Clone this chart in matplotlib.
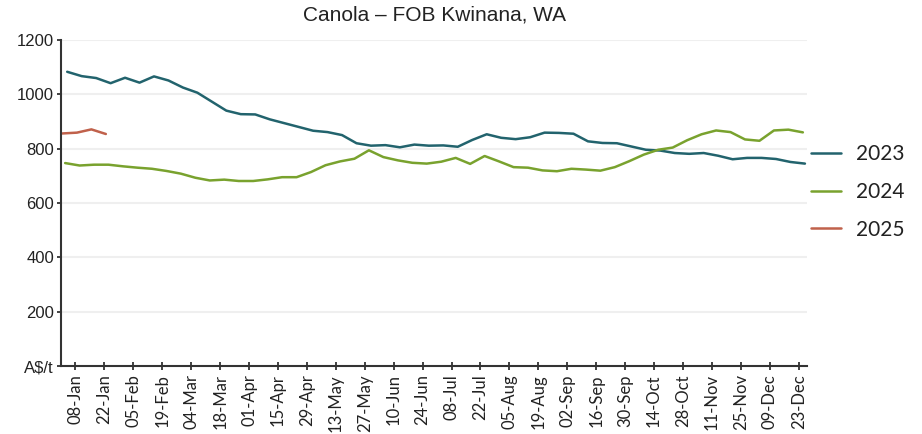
import numpy as np
import matplotlib
matplotlib.use('Agg')
import matplotlib.pyplot as plt

# weekly prices, A$/t
y2023 = [1083, 1067, 1060, 1041, 1061, 1043, 1066, 1051, 1025, 1006, 973, 940,
         927, 926, 908, 894, 880, 866, 861, 850, 820, 811, 813, 805, 815, 811,
         812, 807, 832, 853, 840, 835, 842, 859, 858, 855, 827, 821, 820, 808,
         796, 793, 784, 781, 784, 774, 761, 766, 766, 762, 751, 745]
y2024 = [747, 738, 741, 741, 735, 730, 726, 718, 708, 693, 683, 686,
         681, 681, 687, 695, 695, 714, 739, 753, 763, 794, 769, 757, 748, 745,
         752, 766, 744, 773, 753, 732, 730, 720, 717, 726, 723, 719, 732, 754,
         778, 796, 804, 831, 853, 867, 861, 834, 829, 867, 870, 860]
y2025 = [856, 859, 871, 854]

# day of year for the first week of each series
start_day = {'2023': 3, '2024': 2, '2025': 0.7}

tick_labels = ['08-Jan', '22-Jan', '05-Feb', '19-Feb', '04-Mar', '18-Mar', '01-Apr',
               '15-Apr', '29-Apr', '13-May', '27-May', '10-Jun', '24-Jun', '08-Jul',
               '22-Jul', '05-Aug', '19-Aug', '02-Sep', '16-Sep', '30-Sep', '14-Oct',
               '28-Oct', '11-Nov', '25-Nov', '09-Dec', '23-Dec']

colors = {'2023': '#22636d', '2024': '#79a22e', '2025': '#c0614b'}
series = {'2023': y2023, '2024': y2024, '2025': y2025}

fig = plt.figure(figsize=(9.22, 4.34), dpi=100)
ax = fig.add_axes([61/922, 1 - 366/434, (807 - 61)/922, (366 - 40)/434])

for name, vals in series.items():
    days = start_day[name] + 7 * np.arange(len(vals))
    ax.plot(days, vals, color=colors[name], lw=1.8, label=name, solid_capstyle='round')

ax.set_xlim(0, 361)
ax.set_ylim(0, 1200)
ax.set_xticks(7 + 14 * np.arange(len(tick_labels)))
ax.set_xticklabels(tick_labels, rotation=90, family='Lato', fontsize=12, color='#222222')
ax.set_yticks(np.arange(0, 1201, 200))
ax.set_yticklabels(['A$/t', '200', '400', '600', '800', '1000', '1200'],
                   family='Liberation Sans', fontsize=12, color='#222222')

for v in range(200, 1201, 200):
    ax.axhline(v, color='#efefef', lw=1.5, zorder=0)

for s in ['top', 'right']:
    ax.spines[s].set_visible(False)
for s in ['left', 'bottom']:
    ax.spines[s].set_color('#333333')
    ax.spines[s].set_linewidth(1.5)
ax.tick_params(axis='x', direction='inout', length=6, width=1.3, color='#333333', pad=3)
ax.tick_params(axis='y', direction='out', length=3, width=1.3, color='#333333', pad=2)

ax.set_title('Canola \u2013 FOB Kwinana, WA', family='Liberation Sans', fontsize=15,
             color='#222222', pad=14)

fig.legend(loc='center left', bbox_to_anchor=(811/922, 1 - 192/434), frameon=False,
           prop={'family': 'Lato', 'size': 15}, handlelength=1.45, handletextpad=0.7,
           labelspacing=0.85, borderpad=0, borderaxespad=0, labelcolor='#222222')

fig.savefig('out.png', dpi=100)
